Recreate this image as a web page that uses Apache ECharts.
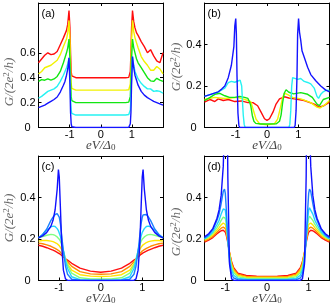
<!DOCTYPE html>
<html>
<head>
<meta charset="utf-8">
<script src="https://cdn.jsdelivr.net/npm/echarts@6/dist/echarts.min.js"></script>
<style>html,body{margin:0;padding:0;background:#fff;}#c{width:332px;height:306px;}</style>
</head>
<body>
<div id="c"></div>
<script>
// ---------- Panel (a) ----------
const aX = [-2,-1.9,-1.8,-1.7,-1.6,-1.5,-1.4,-1.3,-1.2,-1.15,-1.1,-1.06,-1.02,-0.99,-0.97,-0.95,-0.93,-0.9,-0.8,0,0.8,0.9,0.93,0.95,0.97,0.99,1.02,1.06,1.1,1.15,1.2,1.3,1.4,1.5,1.6,1.7,1.8,1.9,2.0];
const aRed = [0.52,0.55,0.58,0.6,0.585,0.59,0.61,0.665,0.72,0.75,0.78,0.83,0.94,0.8,0.6,0.45,0.415,0.403,0.4, 0.4, 0.4,0.403,0.415,0.45,0.6,0.8,0.94,0.85,0.8,0.76,0.74,0.69,0.65,0.6,0.625,0.575,0.535,0.52,0.6];
const aYellow = [0.43,0.45,0.48,0.49,0.5,0.52,0.54,0.585,0.65,0.68,0.71,0.76,0.86,0.7,0.5,0.35,0.315,0.303,0.3, 0.3, 0.3,0.303,0.315,0.35,0.5,0.7,0.86,0.77,0.72,0.68,0.64,0.57,0.53,0.5,0.46,0.46,0.49,0.47,0.43];
const aGreen = [0.37,0.385,0.38,0.39,0.38,0.39,0.41,0.45,0.52,0.56,0.6,0.64,0.71,0.55,0.38,0.25,0.215,0.204,0.2, 0.2, 0.2,0.204,0.215,0.25,0.38,0.55,0.71,0.64,0.6,0.55,0.52,0.48,0.44,0.4,0.375,0.37,0.395,0.38,0.37];
const aCyan = [0.235,0.25,0.27,0.29,0.3,0.31,0.33,0.37,0.42,0.45,0.48,0.51,0.56,0.4,0.24,0.14,0.113,0.104,0.1, 0.1, 0.1,0.104,0.113,0.14,0.24,0.4,0.57,0.5,0.45,0.42,0.39,0.355,0.33,0.31,0.31,0.29,0.295,0.29,0.275];
const aBlue = [0.16,0.17,0.18,0.195,0.21,0.225,0.245,0.285,0.34,0.37,0.42,0.47,0.56,0.35,0.12,0.03,0.006,0.001,0, 0, 0,0.001,0.006,0.03,0.12,0.35,0.57,0.48,0.42,0.38,0.34,0.29,0.26,0.24,0.225,0.21,0.2,0.19,0.18];

// ---------- Panel (b) : [x, G] pairs ----------
const bBlue = [[-2,0.15],[-1.8,0.16],[-1.56,0.172],[-1.45,0.185],[-1.35,0.2],[-1.24,0.24],[-1.14,0.3],[-1.06,0.39],[-1.03,0.49],[-1.0,0.525],[-0.98,0.45],[-0.96,0.25],[-0.93,0.07],[-0.9,0.01],[-0.87,0],[0.87,0],[0.9,0.01],[0.93,0.08],[0.96,0.25],[0.98,0.45],[1.01,0.525],[1.04,0.46],[1.08,0.42],[1.12,0.37],[1.2,0.335],[1.3,0.29],[1.4,0.255],[1.56,0.225],[1.72,0.2],[1.88,0.18],[2.0,0.172]];
const bCyan = [[-2,0.15],[-1.8,0.16],[-1.56,0.172],[-1.35,0.19],[-1.24,0.216],[-1.14,0.222],[-1.03,0.218],[-0.93,0.224],[-0.86,0.228],[-0.83,0.226],[-0.81,0.2],[-0.79,0.14],[-0.76,0.06],[-0.73,0.015],[-0.7,0],[0.7,0],[0.73,0.015],[0.76,0.08],[0.79,0.2],[0.82,0.24],[0.87,0.245],[0.98,0.232],[1.08,0.236],[1.19,0.222],[1.3,0.217],[1.4,0.21],[1.51,0.19],[1.6,0.15],[1.65,0.14],[1.72,0.16],[1.8,0.172],[1.9,0.18],[2.0,0.178]];
const bGreen = [[-2,0.13],[-1.82,0.145],[-1.67,0.16],[-1.51,0.165],[-1.35,0.153],[-1.2,0.145],[-1.03,0.145],[-0.87,0.15],[-0.72,0.145],[-0.61,0.14],[-0.55,0.12],[-0.52,0.105],[-0.47,0.058],[-0.42,0.03],[-0.36,0.02],[-0.2,0.017],[0,0.017],[0.3,0.018],[0.4,0.03],[0.45,0.06],[0.5,0.12],[0.55,0.165],[0.61,0.182],[0.7,0.17],[0.85,0.162],[1.08,0.168],[1.3,0.16],[1.45,0.145],[1.6,0.113],[1.68,0.105],[1.8,0.135],[2.0,0.145]];
const bYellow = [[-2,0.135],[-1.67,0.145],[-1.35,0.14],[-0.93,0.145],[-0.61,0.13],[-0.52,0.125],[-0.45,0.09],[-0.35,0.04],[-0.24,0.018],[0,0.013],[0.24,0.018],[0.34,0.04],[0.42,0.09],[0.5,0.145],[0.56,0.165],[0.65,0.16],[0.82,0.145],[1.08,0.138],[1.4,0.12],[1.6,0.098],[1.7,0.094],[1.88,0.113],[2.0,0.13]];
const bRed = [[-2,0.122],[-1.82,0.135],[-1.67,0.125],[-1.56,0.138],[-1.4,0.13],[-1.24,0.135],[-1.03,0.125],[-0.82,0.128],[-0.61,0.12],[-0.45,0.12],[-0.3,0.105],[-0.19,0.074],[-0.08,0.042],[0,0.034],[0.08,0.042],[0.19,0.074],[0.29,0.113],[0.4,0.138],[0.56,0.148],[0.7,0.142],[0.87,0.138],[1.19,0.13],[1.51,0.113],[1.67,0.098],[1.82,0.105],[2.0,0.122]];

// ---------- Panels (c) and (d) share one bias grid ----------
const cdX = [-1.5,-1.4,-1.3,-1.2,-1.15,-1.1,-1.05,-1.02,-1.0,-0.97,-0.94,-0.9,-0.85,-0.8,-0.7,-0.5,-0.25,0,0.25,0.5,0.7,0.8,0.85,0.9,0.94,0.97,1.0,1.02,1.05,1.1,1.15,1.2,1.3,1.4,1.5];
const c1 = [0.205,0.215,0.232,0.262,0.29,0.34,0.44,0.535,0.5,0.34,0.17,0.05,0.008,0.001,0,0,0,0, 0,0,0,0.001,0.008,0.05,0.17,0.34,0.5,0.535,0.44,0.34,0.29,0.262,0.232,0.215,0.205];
const c2 = [0.205,0.222,0.248,0.29,0.305,0.318,0.322,0.316,0.305,0.27,0.215,0.14,0.07,0.03,0.006,0.001,0,0, 0,0.001,0.006,0.03,0.07,0.14,0.215,0.27,0.305,0.316,0.322,0.318,0.305,0.29,0.248,0.222,0.205];
const c3 = [0.207,0.222,0.243,0.258,0.262,0.26,0.25,0.24,0.232,0.212,0.185,0.145,0.095,0.058,0.018,0.004,0.002,0.002, 0.002,0.004,0.018,0.058,0.095,0.145,0.185,0.212,0.232,0.24,0.25,0.26,0.262,0.258,0.243,0.222,0.207];
const c4 = [0.205,0.212,0.218,0.222,0.221,0.217,0.21,0.204,0.199,0.188,0.172,0.142,0.105,0.074,0.035,0.013,0.008,0.007, 0.008,0.013,0.035,0.074,0.105,0.142,0.172,0.188,0.199,0.204,0.21,0.217,0.221,0.222,0.218,0.212,0.205];
const c5 = [0.19,0.193,0.193,0.19,0.187,0.183,0.177,0.172,0.168,0.16,0.149,0.124,0.1,0.08,0.05,0.028,0.021,0.019, 0.021,0.028,0.05,0.08,0.1,0.124,0.149,0.16,0.168,0.172,0.177,0.183,0.187,0.19,0.193,0.193,0.19];
const c6 = [0.18,0.177,0.172,0.165,0.16,0.155,0.149,0.145,0.142,0.136,0.129,0.117,0.103,0.09,0.068,0.043,0.032,0.03, 0.032,0.043,0.068,0.09,0.103,0.117,0.129,0.136,0.142,0.145,0.149,0.155,0.16,0.165,0.172,0.177,0.18];
const c7 = [0.17,0.165,0.158,0.15,0.146,0.141,0.136,0.133,0.13,0.126,0.121,0.113,0.105,0.098,0.083,0.06,0.045,0.04, 0.045,0.06,0.083,0.098,0.105,0.113,0.121,0.126,0.13,0.133,0.136,0.141,0.146,0.15,0.158,0.165,0.17];

const d1 = [0.21,0.225,0.25,0.3,0.34,0.41,0.55,0.75,1.0,1.2,0.5,0.08,0.008,0.001,0,0,0,0, 0,0,0,0.001,0.008,0.08,0.5,1.2,1.0,0.75,0.55,0.41,0.34,0.3,0.25,0.225,0.21];
const d2 = [0.205,0.22,0.245,0.29,0.32,0.37,0.43,0.44,0.42,0.32,0.2,0.09,0.03,0.012,0.004,0.002,0.002,0.002, 0.002,0.002,0.004,0.012,0.03,0.09,0.2,0.32,0.42,0.44,0.43,0.37,0.32,0.29,0.245,0.22,0.205];
const d3 = [0.2,0.215,0.235,0.27,0.29,0.32,0.345,0.35,0.34,0.28,0.2,0.11,0.05,0.025,0.01,0.006,0.005,0.005, 0.005,0.006,0.01,0.025,0.05,0.11,0.2,0.28,0.34,0.35,0.345,0.32,0.29,0.27,0.235,0.215,0.2];
const d4 = [0.2,0.21,0.228,0.255,0.27,0.29,0.305,0.31,0.3,0.26,0.2,0.125,0.065,0.038,0.018,0.011,0.01,0.01, 0.01,0.011,0.018,0.038,0.065,0.125,0.2,0.26,0.3,0.31,0.305,0.29,0.27,0.255,0.228,0.21,0.2];
const d5 = [0.195,0.205,0.22,0.243,0.255,0.268,0.277,0.278,0.27,0.24,0.195,0.13,0.075,0.047,0.025,0.016,0.014,0.014, 0.014,0.016,0.025,0.047,0.075,0.13,0.195,0.24,0.27,0.278,0.277,0.268,0.255,0.243,0.22,0.205,0.195];
const d6 = [0.19,0.2,0.213,0.233,0.243,0.252,0.257,0.256,0.25,0.225,0.19,0.135,0.085,0.055,0.03,0.02,0.018,0.018, 0.018,0.02,0.03,0.055,0.085,0.135,0.19,0.225,0.25,0.256,0.257,0.252,0.243,0.233,0.213,0.2,0.19];
const d7 = [0.185,0.195,0.207,0.225,0.233,0.24,0.242,0.24,0.233,0.212,0.182,0.135,0.09,0.062,0.035,0.024,0.021,0.02, 0.021,0.024,0.035,0.062,0.09,0.135,0.182,0.212,0.233,0.24,0.242,0.24,0.233,0.225,0.207,0.195,0.185];

// tick labels
const xTicks = [-1, 0, 1];
const yTicksA = [0, 0.2, 0.4, 0.6];
const yTicksB = [0, 0.2, 0.4];
const panelLabels = ['(a)', '(b)', '(c)', '(d)'];

const col5 = ['#1414ff', '#26f2f2', '#12e612', '#f2f200', '#ff0d0d'];
const col7 = ['#1010ff', '#1a80ff', '#22d4ff', '#80ff80', '#ffe600', '#ff8c00', '#ff1010'];

const grids = [
  {left: 38.5, top: 3, width: 124.5, height: 124.5},
  {left: 204.5, top: 3, width: 125, height: 124.5},
  {left: 38.5, top: 156, width: 124.5, height: 124.5},
  {left: 204.5, top: 156, width: 125, height: 124.5}
];
const xr = [[-2, 2], [-2, 2], [-1.5, 1.5], [-1.5, 1.5]];
const yr = [[0, 1], [0, 0.6], [0, 0.6], [0, 0.6]];
const yt = [yTicksA, yTicksB, yTicksB, yTicksB];

const LF = 'Liberation Sans';
const lineC = {color: '#000', width: 1};
const xAxis = [], yAxis = [];
grids.forEach((g, i) => {
  xAxis.push({gridIndex: i, type: 'value', min: xr[i][0], max: xr[i][1], position: 'bottom',
    axisLine: {show: true, onZero: false, lineStyle: lineC},
    axisTick: {show: true, inside: true, length: 3, customValues: xTicks, lineStyle: lineC},
    axisLabel: {show: true, customValues: xTicks, color: '#000', fontSize: 11, fontFamily: LF, margin: 2,
      formatter: v => String(v)},
    splitLine: {show: false}});
  xAxis.push({gridIndex: i, type: 'value', min: xr[i][0], max: xr[i][1], position: 'top',
    axisLine: {show: true, onZero: false, lineStyle: lineC},
    axisTick: {show: true, inside: true, length: 3, customValues: xTicks, lineStyle: lineC},
    axisLabel: {show: false}, splitLine: {show: false}});
  yAxis.push({gridIndex: i, type: 'value', min: yr[i][0], max: yr[i][1], position: 'left',
    axisLine: {show: true, onZero: false, lineStyle: lineC},
    axisTick: {show: true, inside: true, length: 3, customValues: yt[i], lineStyle: lineC},
    axisLabel: {show: true, customValues: yt[i], color: '#000', fontSize: 11, fontFamily: LF, margin: 3,
      formatter: v => (v === 0 ? '{z|0}' : String(v)),
      rich: {z: {fontSize: 11, fontFamily: LF, color: '#000', padding: [0, 5, 0, 0]}}},
    splitLine: {show: false}});
  yAxis.push({gridIndex: i, type: 'value', min: yr[i][0], max: yr[i][1], position: 'right',
    axisLine: {show: true, onZero: false, lineStyle: lineC},
    axisTick: {show: true, inside: true, length: 3, customValues: yt[i], lineStyle: lineC},
    axisLabel: {show: false}, splitLine: {show: false}});
});

const series = [];
function add(i, data, color) {
  series.push({type: 'line', xAxisIndex: 2 * i, yAxisIndex: 2 * i, data: data,
    showSymbol: false, symbol: 'none', clip: true, silent: true,
    lineStyle: {color: color, width: 1.4}, itemStyle: {color: color}});
}
const zipA = arr => aX.map((x, k) => [x, arr[k]]);
const zipCD = arr => cdX.map((x, k) => [x, arr[k]]);
[aRed, aYellow, aGreen, aCyan, aBlue].forEach((arr, k) => add(0, zipA(arr), col5[4 - k]));
[bRed, bYellow, bGreen, bCyan, bBlue].forEach((arr, k) => add(1, arr, col5[4 - k]));
[c7, c6, c5, c4, c3, c2, c1].forEach((arr, k) => add(2, zipCD(arr), col7[6 - k]));
[d7, d6, d5, d4, d3, d2, d1].forEach((arr, k) => add(3, zipCD(arr), col7[6 - k]));

const SF = '"Liberation Serif", "DejaVu Serif", serif';
const graphic = [];
grids.forEach((g, i) => {
  graphic.push({type: 'text', left: null, x: g.left + 3, y: g.top + 11,
    style: {text: panelLabels[i], font: '11px "Liberation Sans"', fill: '#000', align: 'left', verticalAlign: 'middle'}});
  graphic.push({type: 'text', x: g.left + g.width / 2, y: g.top + g.height + 18.5,
    style: {text: '{i|eV/Δ}{s|0}', align: 'center', verticalAlign: 'middle',
      rich: {i: {font: 'italic 13px ' + SF, fill: '#444'}, s: {font: '9px ' + SF, fill: '#444', verticalAlign: 'bottom'}}}});
});
const yNamePos = [[10, 82], [177, 67], [10, 218], [177, 232]];
yNamePos.forEach(p => {
  graphic.push({type: 'text', x: p[0], y: p[1], rotation: Math.PI / 2,
    style: {text: '{i|G/(2e}{p|2}{i|/h)}', align: 'center', verticalAlign: 'middle',
      rich: {i: {font: 'italic 13px ' + SF, fill: '#666', lineHeight: 15}, p: {font: '9px ' + SF, fill: '#666', verticalAlign: 'top', lineHeight: 15}}}});
});

const chart = echarts.init(document.getElementById('c'), null, {renderer: 'canvas'});
chart.setOption({animation: false, backgroundColor: '#fff', grid: grids, xAxis, yAxis, series, graphic});
</script>
</body>
</html>
